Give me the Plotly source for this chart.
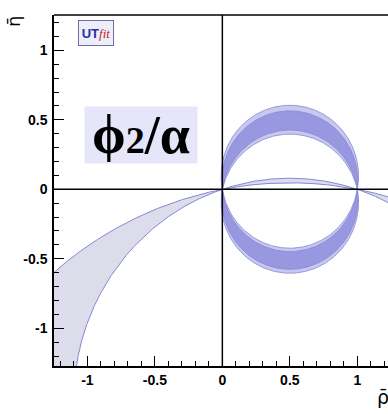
import numpy as np
import plotly.graph_objects as go

# ---- data: constraint boundaries expressed as angle alpha (degrees) ----
# each circle passes through (0,0) and (1,0); inscribed angle = alpha
upper_light = [79.1, 103.0]   # outer, inner (eta > 0 band, 95%)
upper_dark = [83.0, 99.0]     # outer, inner (68%)
lower_light = [79.2, 99.4]    # outer, inner (eta < 0 band, 95%)
lower_dark = [81.9, 96.2]
gray_band = [169.3, 161.8]    # wide circles giving the thin crescent / left band

x_range = [-1.247, 1.227]
y_range = [-1.272, 1.255]
x_ticks = [-1, -0.5, 0, 0.5, 1]
x_ticklabels = ["-1", "-0.5", "0", "0.5", "1"]
y_ticks = [-1, -0.5, 0, 0.5, 1]
y_ticklabels = ["-1", "-0.5", "0", "0.5", "1"]

LIGHT = "rgb(200,200,238)"
DARK = "rgb(152,152,224)"
GRAY = "rgb(220,220,234)"
EDGE = "rgb(135,135,215)"


def circle(alpha_deg):
    a = np.radians(alpha_deg)
    k = 0.5 / np.tan(a)
    r = 0.5 / np.sin(a)
    return k, r


def top_arc(alpha_deg, reverse=False, n=400):
    k, r = circle(alpha_deg)
    t0 = np.arctan2(-k, 0.5)
    t = np.linspace(t0, np.pi - t0, n)
    if reverse:
        t = t[::-1]
    return 0.5 + r * np.cos(t), k + r * np.sin(t)


def band(outer, inner, sign):
    xo, yo = top_arc(outer)
    xi, yi = top_arc(inner, reverse=True)
    x = np.concatenate([xo, xi, xo[:1]])
    y = np.concatenate([yo, yi, yo[:1]]) * sign
    return x, y


fig = go.Figure()

# gray band between two large circles
xs = np.linspace(x_range[0] - 0.05, x_range[1] + 0.05, 3000)
k1, r1 = circle(gray_band[0])
k2, r2 = circle(gray_band[1])
y1 = k1 + np.sqrt(np.clip(r1**2 - (xs - 0.5) ** 2, 0, None))
d2 = r2**2 - (xs - 0.5) ** 2
y2 = np.where(d2 >= 0, k2 + np.sqrt(np.clip(d2, 0, None)), y_range[0] - 1)
fig.add_trace(go.Scatter(x=xs, y=y1, mode="lines", line=dict(color=EDGE, width=1),
                         hoverinfo="skip", showlegend=False))
fig.add_trace(go.Scatter(x=xs, y=y2, mode="lines", line=dict(color=EDGE, width=1),
                         fill="tonexty", fillcolor=GRAY, hoverinfo="skip", showlegend=False))

for (outer, inner), sign, col in [
    (upper_light, 1, LIGHT), (upper_dark, 1, DARK),
    (lower_light, -1, LIGHT), (lower_dark, -1, DARK),
]:
    bx, by = band(outer, inner, sign)
    fig.add_trace(go.Scatter(x=bx, y=by, mode="lines", fill="toself", fillcolor=col,
                             line=dict(color=EDGE, width=0.8), hoverinfo="skip",
                             showlegend=False))

tickfont = dict(family="Liberation Sans, Arial, sans-serif", size=14, color="black")


def bold(labels):
    return ["<b>%s</b>" % s for s in labels]


fig.update_layout(
    width=388, height=414,
    margin=dict(l=54, r=0, t=15, b=48),
    paper_bgcolor="white", plot_bgcolor="white",
    xaxis=dict(range=x_range, tickvals=x_ticks, ticktext=bold(x_ticklabels),
               ticks="inside", ticklen=10, tickwidth=1, tickcolor="black",
               minor=dict(dtick=0.1, ticks="inside", ticklen=5, tickcolor="black", tickwidth=1, showgrid=False),
               showgrid=False, zeroline=False, showline=True, linecolor="black", linewidth=1.5,
               tickfont=tickfont, ticklabelstandoff=0),
    yaxis=dict(range=y_range, tickvals=y_ticks, ticktext=bold(y_ticklabels),
               ticks="inside", ticklen=10, tickwidth=1, tickcolor="black",
               minor=dict(dtick=0.1, ticks="inside", ticklen=5, tickcolor="black", tickwidth=1, showgrid=False),
               showgrid=False, zeroline=False, showline=True, linecolor="black", linewidth=1.5,
               tickfont=tickfont, ticklabelstandoff=2),
    shapes=[
        dict(type="line", xref="x", yref="paper", x0=0, x1=0, y0=0, y1=1,
             line=dict(color="black", width=1.5), layer="above"),
        dict(type="line", xref="paper", yref="y", x0=0, x1=1, y0=0, y1=0,
             line=dict(color="black", width=1.5), layer="above"),
        dict(type="line", xref="paper", yref="paper", x0=0, x1=1, y0=1, y1=1,
             line=dict(color="black", width=1.5), layer="above"),
    ],
)

pw, ph = 388 - 54, 414 - 15 - 48


def px(xp):
    return (xp - 54) / pw


def py(yp):
    return (414 - 48 - yp) / ph


fig.add_annotation(x=px(141), y=py(135), xref="paper", yref="paper",
                   xanchor="center", yanchor="middle", width=110, height=54,
                   text="ϕ<span style='font-size:38px;font-weight:bold'>2</span>/α", showarrow=False,
                   font=dict(family="Liberation Serif, Times New Roman, serif", size=54,
                             color="black", weight="bold"),
                   bgcolor="rgb(230,230,250)", borderpad=1)

fig.add_annotation(x=px(96), y=py(33), xref="paper", yref="paper",
                   xanchor="center", yanchor="middle", width=32, height=22,
                   text="<b>UT</b><span style='font-family:Liberation Serif;font-size:13px;color:rgb(200,30,30)'><i>fit</i></span>",
                   showarrow=False,
                   font=dict(family="Liberation Sans, Arial, sans-serif", size=13, color="rgb(30,50,160)"),
                   bgcolor="rgb(238,238,250)", bordercolor="rgb(110,110,170)", borderwidth=1, borderpad=1)

fig.add_annotation(x=px(383), y=py(397), xref="paper", yref="paper",
                   xanchor="center", yanchor="middle",
                   text="ρ\u0304", showarrow=False,
                   font=dict(family="DejaVu Sans, sans-serif", size=19, color="black"))
fig.add_annotation(x=px(13), y=py(22), xref="paper", yref="paper",
                   xanchor="center", yanchor="middle",
                   text="η\u0304", showarrow=False, textangle=-90,
                   font=dict(family="DejaVu Sans, sans-serif", size=18, color="black"))

fig.write_html("out.html")
